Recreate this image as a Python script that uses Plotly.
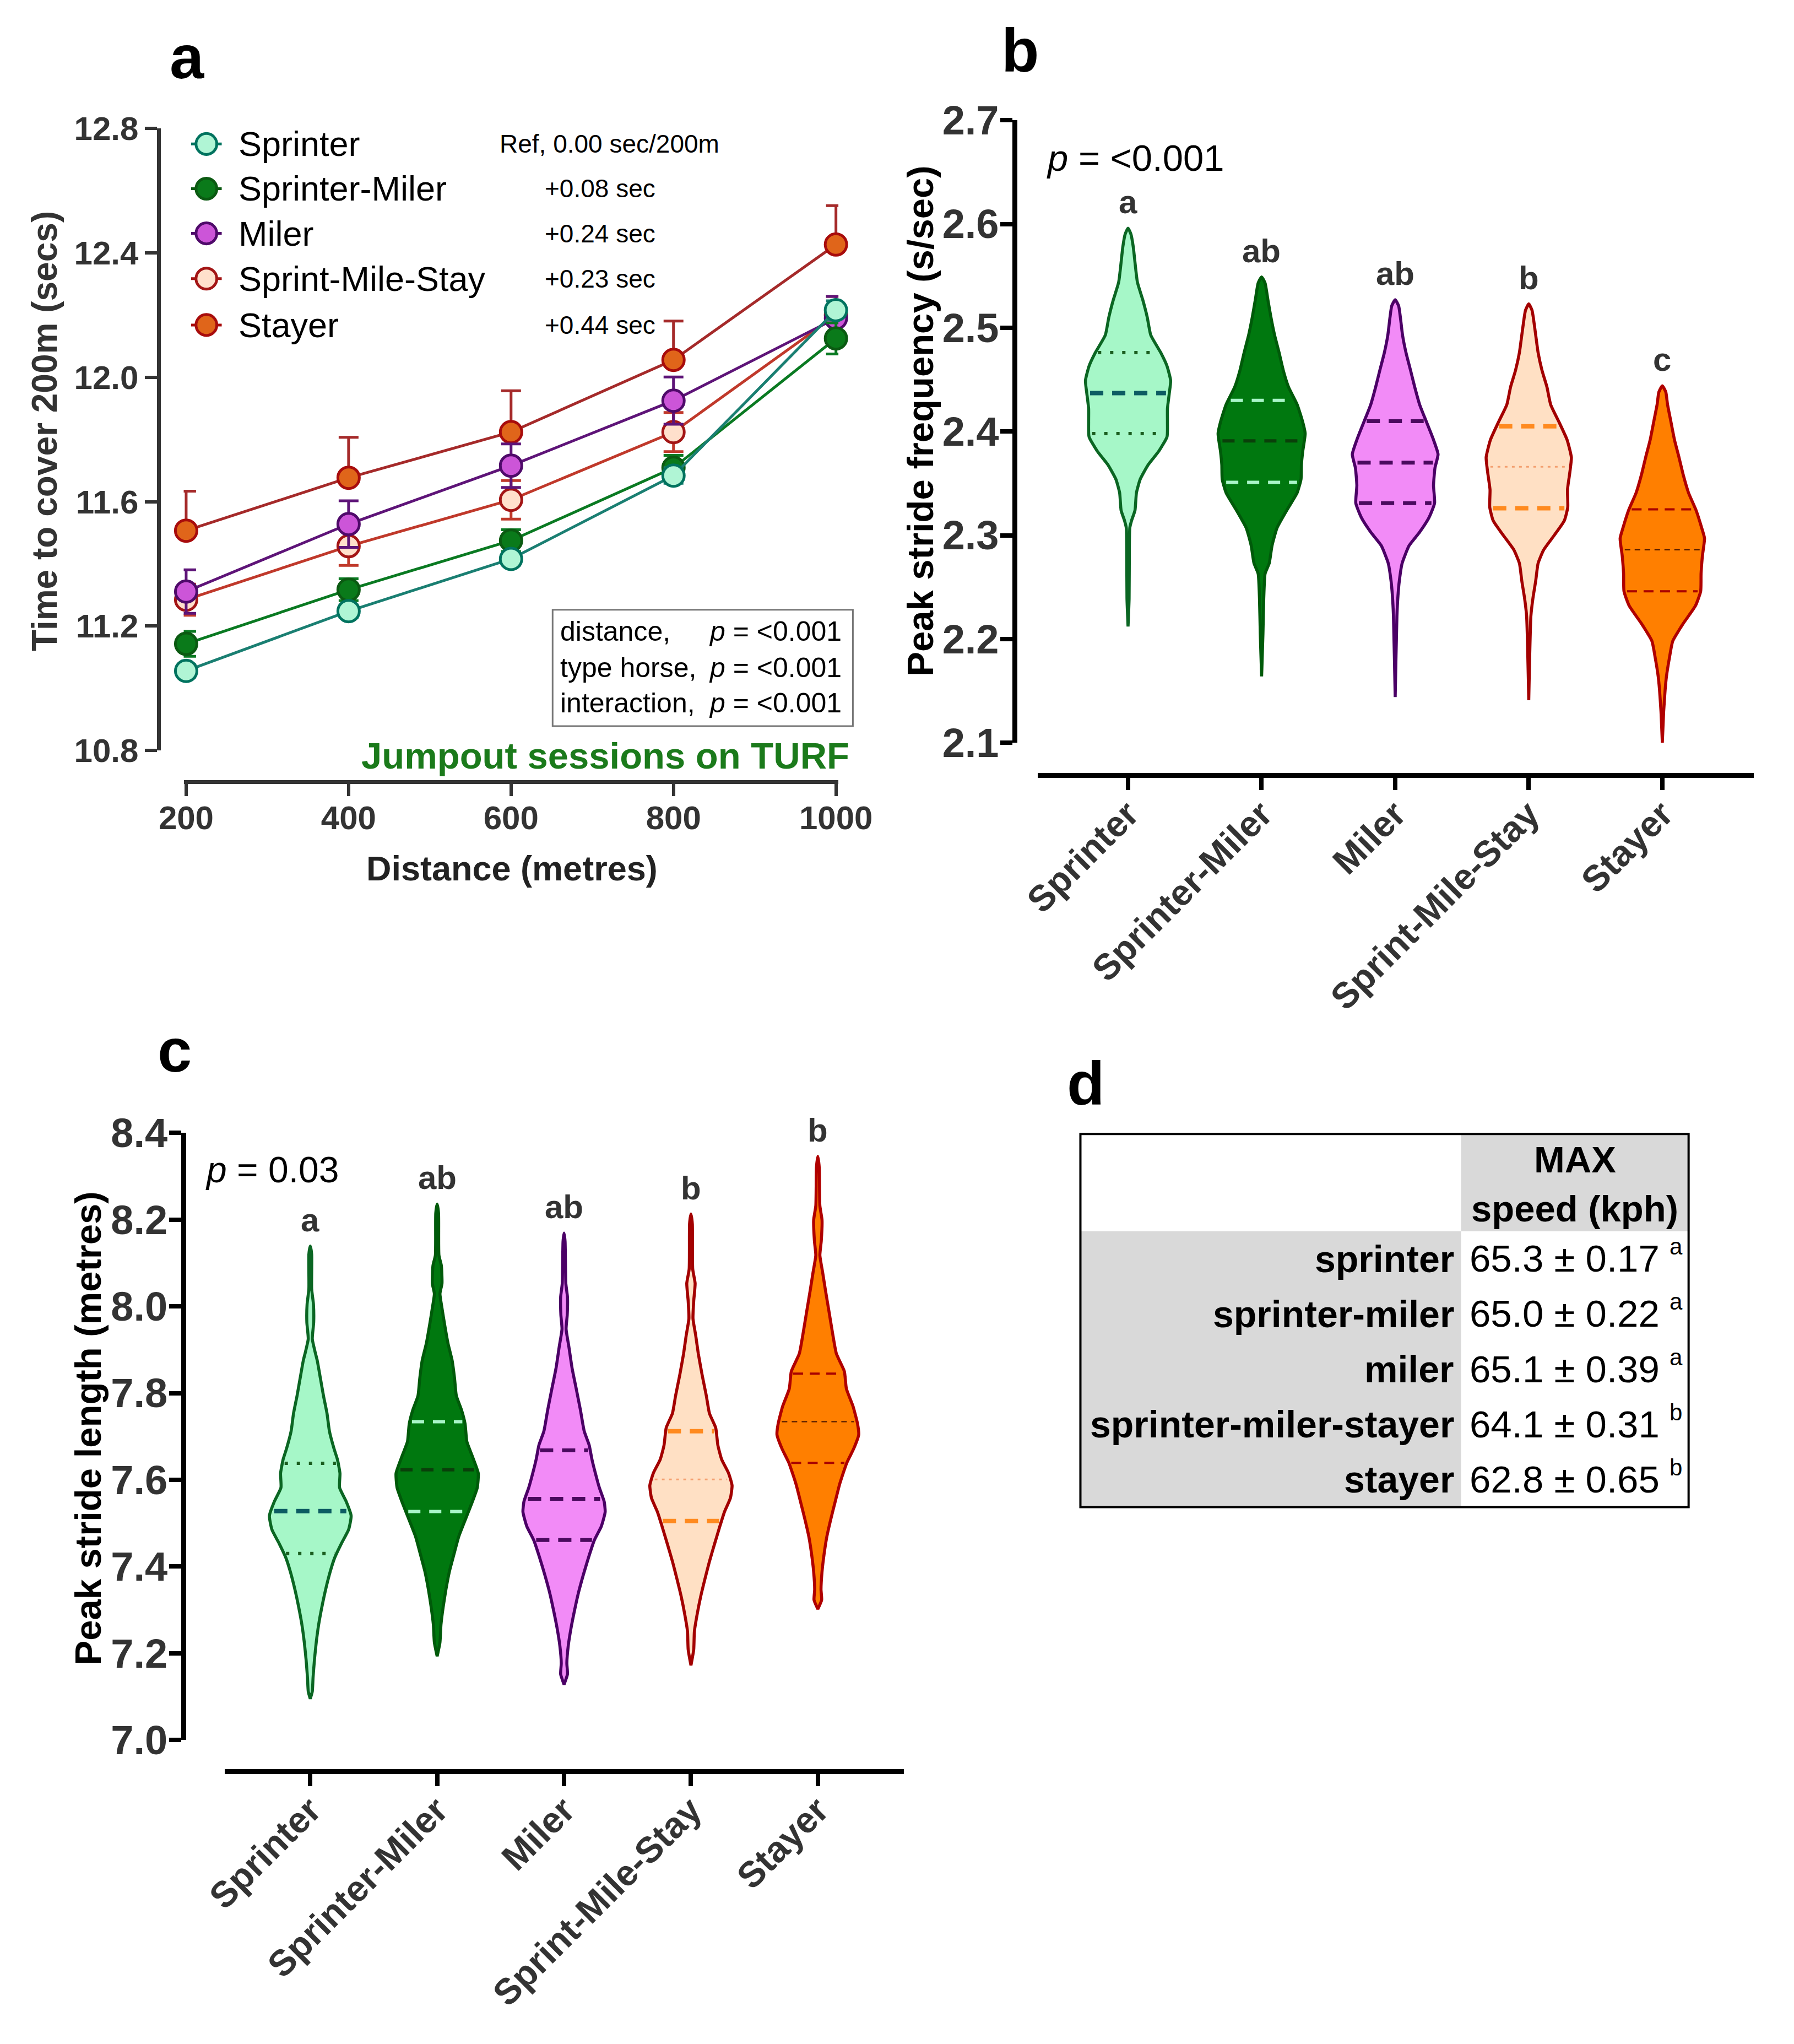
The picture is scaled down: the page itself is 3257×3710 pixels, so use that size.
import numpy as np
import plotly.graph_objects as go

W, H = 3257, 3710
FONT = "Liberation Sans, Arial, sans-serif"

# the photographed page comes out slightly shrunk with a border, so
# positions taken from the reference picture are mapped back here
SX, OX = 0.974, 43
SY, OY = 0.976, 46


def fx(p):
    return ((p - OX) / SX) / W


def fy(p):
    return 1 - ((p - OY) / SY) / H


groups = ["Sprinter", "Sprinter-Miler", "Miler", "Sprint-Mile-Stay", "Stayer"]

# ---- panel a: time to cover 200m vs distance (mean, SEM)
distance = [200, 400, 600, 800, 1000]
t_sprinter = [11.056, 11.248, 11.416, 11.684, 12.216]
t_spr_miler = [11.143, 11.317, 11.475, 11.709, 12.125]
t_miler = [11.311, 11.528, 11.716, 11.925, 12.19]
t_sms = [11.285, 11.457, 11.606, 11.824, 12.20]
t_stayer = [11.507, 11.677, 11.824, 12.056, 12.427]
sem_sprinter = [0.02, 0.02, 0.02, 0.025, 0.03]
sem_spr_miler = [0.04, 0.035, 0.035, 0.04, 0.05]
sem_miler = [0.07, 0.075, 0.07, 0.076, 0.07]
sem_sms = [0.05, 0.062, 0.062, 0.063, 0.06]
sem_stayer = [0.127, 0.13, 0.133, 0.125, 0.125]
diff_labels = ["Ref, 0.00 sec/200m", "+0.08 sec", "+0.24 sec", "+0.23 sec", "+0.44 sec"]
stat_terms = ["distance,", "type horse,", "interaction,"]
stat_p = ["&lt;0.001", "&lt;0.001", "&lt;0.001"]

# ---- panel b: peak stride frequency, violin outlines (value, half width)
sf_spr_y = [2.596, 2.590, 2.578, 2.544, 2.527, 2.510, 2.493, 2.476, 2.463, 2.449, 2.436, 2.422,
            2.409, 2.395, 2.381, 2.368, 2.354, 2.341, 2.324, 2.314, 2.307, 2.290, 2.239, 2.212]
sf_spr_w = [0.0, 0.022, 0.039, 0.070, 0.110, 0.144, 0.170, 0.245, 0.292, 0.319, 0.308, 0.295,
            0.295, 0.292, 0.230, 0.151, 0.091, 0.063, 0.052, 0.026, 0.013, 0.010, 0.008, 0.0]
sf_sm_y = [2.549, 2.543, 2.527, 2.510, 2.493, 2.476, 2.459, 2.443, 2.426, 2.409, 2.398, 2.381,
           2.368, 2.354, 2.341, 2.324, 2.307, 2.290, 2.273, 2.263, 2.239, 2.205, 2.164]
sf_sm_w = [0.0, 0.026, 0.047, 0.070, 0.097, 0.131, 0.162, 0.201, 0.266, 0.308, 0.326, 0.308,
           0.298, 0.295, 0.266, 0.188, 0.115, 0.078, 0.057, 0.026, 0.016, 0.010, 0.0]
sf_mil_y = [2.527, 2.521, 2.510, 2.493, 2.476, 2.459, 2.443, 2.426, 2.409, 2.392, 2.378, 2.365,
            2.348, 2.331, 2.317, 2.303, 2.290, 2.273, 2.256, 2.242, 2.222, 2.144]
sf_mil_w = [0.0, 0.026, 0.039, 0.055, 0.081, 0.115, 0.146, 0.183, 0.235, 0.287, 0.321, 0.298,
            0.287, 0.295, 0.253, 0.183, 0.104, 0.052, 0.031, 0.021, 0.013, 0.0]
sf_sms_y = [2.523, 2.517, 2.510, 2.493, 2.476, 2.459, 2.443, 2.426, 2.409, 2.392, 2.375, 2.361,
            2.344, 2.327, 2.314, 2.300, 2.286, 2.273, 2.256, 2.239, 2.222, 2.141]
sf_sms_w = [0.0, 0.024, 0.034, 0.052, 0.070, 0.099, 0.136, 0.164, 0.227, 0.287, 0.319, 0.308,
            0.290, 0.292, 0.266, 0.191, 0.112, 0.070, 0.052, 0.031, 0.016, 0.0]
sf_sta_y = [2.444, 2.438, 2.426, 2.409, 2.392, 2.375, 2.358, 2.341, 2.324, 2.307, 2.297, 2.280,
            2.263, 2.246, 2.232, 2.215, 2.198, 2.181, 2.164, 2.151, 2.130, 2.100]
sf_sta_w = [0.0, 0.026, 0.039, 0.065, 0.091, 0.125, 0.157, 0.196, 0.253, 0.295, 0.316, 0.300,
            0.290, 0.287, 0.248, 0.157, 0.078, 0.052, 0.031, 0.021, 0.010, 0.0]
sf_q3 = [2.476, 2.430, 2.410, 2.405, 2.325]
sf_med = [2.437, 2.391, 2.370, 2.366, 2.286]
sf_q1 = [2.398, 2.351, 2.331, 2.326, 2.246]
sf_letters = ["a", "ab", "ab", "b", "c"]

# ---- panel c: peak stride length
sl_spr_y = [8.139, 8.120, 8.040, 8.005, 7.963, 7.925, 7.895, 7.875, 7.834, 7.794, 7.753, 7.712,
            7.672, 7.647, 7.615, 7.582, 7.550, 7.517, 7.485, 7.453, 7.420, 7.388, 7.347, 7.306,
            7.266, 7.225, 7.185, 7.144, 7.112, 7.095]
sl_spr_w = [0.0, 0.011, 0.011, 0.025, 0.027, 0.016, 0.038, 0.055, 0.080, 0.104, 0.132, 0.151,
            0.187, 0.214, 0.234, 0.231, 0.283, 0.322, 0.302, 0.245, 0.192, 0.157, 0.121, 0.091,
            0.066, 0.047, 0.033, 0.022, 0.016, 0.0]
sl_sm_y = [8.236, 8.215, 8.118, 8.094, 8.053, 8.029, 7.996, 7.956, 7.915, 7.875, 7.834, 7.794,
           7.761, 7.729, 7.688, 7.656, 7.615, 7.582, 7.550, 7.517, 7.469, 7.428, 7.388, 7.347,
           7.306, 7.266, 7.225, 7.193]
sl_sm_w = [0.0, 0.011, 0.014, 0.033, 0.038, 0.022, 0.038, 0.060, 0.085, 0.118, 0.137, 0.151,
           0.192, 0.220, 0.234, 0.275, 0.324, 0.316, 0.278, 0.234, 0.170, 0.132, 0.096, 0.069,
           0.047, 0.030, 0.022, 0.0]
sl_mil_y = [8.169, 8.150, 8.053, 8.021, 7.980, 7.948, 7.907, 7.858, 7.810, 7.761, 7.712, 7.680,
            7.647, 7.615, 7.582, 7.550, 7.526, 7.493, 7.461, 7.420, 7.380, 7.339, 7.298, 7.258,
            7.217, 7.177, 7.152, 7.128]
sl_mil_w = [0.0, 0.008, 0.014, 0.027, 0.025, 0.016, 0.038, 0.063, 0.096, 0.129, 0.159, 0.198,
            0.220, 0.247, 0.278, 0.316, 0.324, 0.294, 0.239, 0.192, 0.151, 0.113, 0.082, 0.055,
            0.033, 0.022, 0.027, 0.0]
sl_sms_y = [8.213, 8.190, 8.086, 8.053, 8.013, 7.972, 7.932, 7.891, 7.842, 7.794, 7.753, 7.720,
            7.680, 7.647, 7.615, 7.587, 7.558, 7.526, 7.493, 7.453, 7.412, 7.371, 7.331, 7.290,
            7.250, 7.209, 7.172]
sl_sms_w = [0.0, 0.011, 0.014, 0.033, 0.022, 0.016, 0.038, 0.058, 0.088, 0.121, 0.146, 0.195,
            0.212, 0.242, 0.297, 0.324, 0.311, 0.264, 0.228, 0.187, 0.146, 0.110, 0.077, 0.049,
            0.027, 0.022, 0.0]
sl_sta_y = [8.346, 8.320, 8.232, 8.199, 8.151, 8.118, 8.078, 8.037, 7.988, 7.940, 7.891, 7.850,
            7.810, 7.769, 7.729, 7.704, 7.672, 7.639, 7.591, 7.550, 7.509, 7.469, 7.428, 7.388,
            7.347, 7.323, 7.302]
sl_sta_w = [0.0, 0.011, 0.016, 0.033, 0.027, 0.016, 0.038, 0.060, 0.088, 0.115, 0.146, 0.209,
            0.225, 0.278, 0.313, 0.322, 0.283, 0.228, 0.173, 0.137, 0.102, 0.071, 0.049, 0.033,
            0.025, 0.030, 0.0]
sl_q3 = [7.638, 7.734, 7.668, 7.712, 7.845]
sl_med = [7.528, 7.623, 7.556, 7.601, 7.734]
sl_q1 = [7.430, 7.527, 7.461, 7.505, 7.639]
sl_letters = ["a", "ab", "ab", "b", "b"]

# ---- panel d: max speed table
speed_header = ["MAX", "speed (kph)"]
speed_labels = ["sprinter", "sprinter-miler", "miler", "sprinter-miler-stayer", "stayer"]
speed_mean = ["65.3", "65.0", "65.1", "64.1", "62.8"]
speed_sem = ["0.17", "0.22", "0.39", "0.31", "0.65"]
speed_letters = ["a", "a", "a", "b", "b"]

# colours
fills = ["#A6F7C8", "#00780F", "#F28BF7", "#FFE0C4", "#FF7F00"]
edges = ["#0B6623", "#005A0A", "#4B0066", "#A30000", "#B00000"]
mk_fill = ["#B0F5D5", "#0A7A1A", "#CC55D8", "#FFE0CC", "#E0651A"]
mk_edge = ["#00735F", "#0B5A12", "#4F0A6A", "#A31515", "#A80C0C"]
ln_col = ["#1A7F72", "#0A7A22", "#5E1478", "#C0392B", "#A52A2A"]
# quartile line styles: (q colour, q dash, q width, median colour, median dash, median width)
qstyle = [
    ("#1B5E20", "6px,16px", 6, "#0D5C63", "24px,16px", 8),
    ("#A8F5C8", "22px,16px", 6, "#0A3F0A", "22px,16px", 6),
    ("#4A0A5E", "24px,16px", 7, "#4A0A5E", "24px,16px", 7),
    ("#FF8A1F", "24px,16px", 8, "#F4A070", "5px,8px", 3),
    ("#A80000", "18px,12px", 4, "#4A1500", "10px,8px", 2),
]

fig = go.Figure()

# ---- panel a traces (reverse order so Sprinter sits on top)
times = [t_sprinter, t_spr_miler, t_miler, t_sms, t_stayer]
sems = [sem_sprinter, sem_spr_miler, sem_miler, sem_sms, sem_stayer]
for k in [4, 3, 2, 1, 0]:
    if k == 4:
        err = dict(type="data", array=sems[k], arrayminus=[0] * 5, symmetric=False)
    else:
        err = dict(type="data", array=sems[k], symmetric=True)
    err.update(color=ln_col[k], thickness=5, width=18)
    fig.add_trace(go.Scatter(
        x=distance, y=times[k], mode="lines+markers", name=groups[k],
        line=dict(color=ln_col[k], width=5),
        marker=dict(size=39, color=mk_fill[k], line=dict(color=mk_edge[k], width=5)),
        error_y=err, cliponaxis=False, showlegend=False, xaxis="x", yaxis="y"))

annotations = []


def violins(profiles, q1, med, q3, letters, xa, ya):
    for i, (lv, wd) in enumerate(profiles):
        lv = np.array(lv)
        wd = np.array(wd)
        xs = np.concatenate([i + wd, (i - wd)[::-1]])
        ys = np.concatenate([lv, lv[::-1]])
        fig.add_trace(go.Scatter(
            x=xs, y=ys, mode="lines", fill="toself", fillcolor=fills[i],
            line=dict(color=edges[i], width=5.5, shape="spline", smoothing=0.5),
            showlegend=False, hoverinfo="skip", xaxis=xa, yaxis=ya))
        qc, qd, qw, mc, md, mw = qstyle[i]
        for val, c, d, w in [(q3[i], qc, qd, qw), (med[i], mc, md, mw), (q1[i], qc, qd, qw)]:
            half = np.interp(val, lv[::-1], wd[::-1]) * 0.92
            fig.add_trace(go.Scatter(
                x=[i - half, i + half], y=[val, val], mode="lines",
                line=dict(color=c, width=w, dash=d), showlegend=False,
                hoverinfo="skip", xaxis=xa, yaxis=ya))
        annotations.append(dict(x=i, y=lv[0], xref=xa, yref=ya, text=letters[i], showarrow=False,
                                yanchor="bottom", yshift=12,
                                font=dict(family=FONT, size=60, color="#333333", weight="bold")))


violins([(sf_spr_y, sf_spr_w), (sf_sm_y, sf_sm_w), (sf_mil_y, sf_mil_w), (sf_sms_y, sf_sms_w),
         (sf_sta_y, sf_sta_w)], sf_q1, sf_med, sf_q3, sf_letters, "x2", "y2")
violins([(sl_spr_y, sl_spr_w), (sl_sm_y, sl_sm_w), (sl_mil_y, sl_mil_w), (sl_sms_y, sl_sms_w),
         (sl_sta_y, sl_sta_w)], sl_q1, sl_med, sl_q3, sl_letters, "x3", "y3")

# ---- axes
tick_a = dict(family=FONT, size=60, color="#333333", weight="bold")
tick_bc = dict(family=FONT, size=74, color="#333333", weight="bold")
cat_font = dict(family=FONT, size=66, color="#333333", weight="bold")


def axis_common(color, lw, standoff=0):
    return dict(showline=True, linecolor=color, linewidth=lw, ticks="outside", ticklen=22,
                tickwidth=lw - 1, tickcolor=color, showgrid=False, zeroline=False,
                ticklabelstandoff=standoff)


fig.update_layout(
    width=W, height=H, margin=dict(l=0, r=0, t=0, b=0),
    paper_bgcolor="white", plot_bgcolor="white", showlegend=False,
    font=dict(family=FONT, color="black"),
    xaxis=dict(domain=[fx(325.5), fx(1522.5)], range=[197, 1003], anchor="free", position=fy(1414),
               tickvals=distance, tickfont=tick_a, **axis_common("#333333", 7, -12)),
    yaxis=dict(domain=[fy(1357), fy(230)], range=[10.8, 12.8], anchor="free", position=fx(280),
               dtick=0.4, tickformat=".1f", tickfont=tick_a, **axis_common("#333333", 7)),
    xaxis2=dict(domain=[fx(1887), fx(3196)], range=[-0.676, 4.684], anchor="free", position=fy(1402),
                tickvals=list(range(5)), ticktext=groups, tickangle=-45, tickfont=cat_font,
                **axis_common("black", 9, -22)),
    yaxis2=dict(domain=[fy(1343), fy(215)], range=[2.1, 2.7], anchor="free", position=fx(1845),
                dtick=0.1, tickformat=".1f", tickfont=tick_bc, **axis_common("black", 9, -12)),
    xaxis3=dict(domain=[fx(401), fx(1642)], range=[-0.672, 4.677], anchor="free", position=fy(3207),
                tickvals=list(range(5)), ticktext=groups, tickangle=-45, tickfont=cat_font,
                **axis_common("black", 9, -22)),
    yaxis3=dict(domain=[fy(3150), fy(2050)], range=[7.0, 8.4], anchor="free", position=fx(325),
                dtick=0.2, tickformat=".1f", tickfont=tick_bc, **axis_common("black", 9, -12)),
)

shapes = []


def paper_text(x, y, text, size, xanchor="left", color="black", weight="normal", angle=0):
    annotations.append(dict(x=fx(x), y=fy(y), xref="paper", yref="paper", text=text,
                            showarrow=False, xanchor=xanchor, yanchor="middle", textangle=angle,
                            font=dict(family=FONT, size=size, color=color, weight=weight)))


def paper_rect(x0, y0, x1, y1, fill=None, line=None, lw=0):
    shapes.append(dict(type="rect", xref="paper", yref="paper", x0=fx(x0), x1=fx(x1),
                       y0=fy(y1), y1=fy(y0), fillcolor=fill or "rgba(0,0,0,0)",
                       line=dict(color=line or "rgba(0,0,0,0)", width=lw), layer="below"))


# axis titles
paper_text(71, 778, "Time to cover 200m (secs)", 64, xanchor="center", color="#333333",
           weight="bold", angle=-90)
paper_text(926, 1570, "Distance (metres)", 63, xanchor="center", color="#222222", weight="bold")
paper_text(1672, 760, "Peak stride frequency (s/sec)", 67, xanchor="center", weight="bold", angle=-90)
paper_text(150, 2585, "Peak stride length (metres)", 67, xanchor="center", weight="bold", angle=-90)

# panel letters
for letter, (lx, ly) in zip("abcd", [(332, 100), (1855, 88), (309, 1900), (1975, 1960)]):
    paper_text(lx, ly, letter, 112, xanchor="center", weight="bold")

# legend of panel a
legend_rows = [258, 339, 420, 502, 586]
for k, ry in enumerate(legend_rows):
    shapes.append(dict(type="line", xref="paper", yref="paper", x0=fx(339), x1=fx(395),
                       y0=fy(ry), y1=fy(ry), line=dict(color=mk_edge[k], width=5)))
    shapes.append(dict(type="circle", xref="paper", yref="paper", x0=fx(367 - 19), x1=fx(367 + 19),
                       y0=fy(ry + 19), y1=fy(ry - 19), fillcolor=mk_fill[k],
                       line=dict(color=mk_edge[k], width=5)))
    paper_text(424, ry, groups[k], 63)
    if k == 0:
        paper_text(901, ry, diff_labels[k], 46)
    else:
        paper_text(1190, ry, diff_labels[k], 46, xanchor="right")

# stats box
shapes.append(dict(type="rect", xref="paper", yref="paper", x0=fx(1000), x1=fx(1549),
                   y0=fy(1313), y1=fy(1102), line=dict(color="#777777", width=3)))
for lab, pv, yy in zip(stat_terms, stat_p, [1141, 1207, 1271]):
    paper_text(1012, yy, lab, 50)
    paper_text(1284, yy, "<i>p</i> = " + pv, 50)
paper_text(1545, 1366, "Jumpout sessions on TURF", 67, xanchor="right", color="#1B7A1B", weight="bold")

paper_text(1901, 283, "<i>p</i> = &lt;0.001", 67)
paper_text(363, 2117, "<i>p</i> = 0.03", 66)

# ---- panel d table
T_L, T_R, T_T, T_B, T_SPLIT, T_HEAD = 1965, 3077, 2052, 2728, 2661, 2228
row_h = (T_B - T_HEAD) / len(speed_labels)
paper_rect(T_SPLIT, T_T, T_R, T_HEAD, fill="#D9D9D9")
paper_rect(T_L, T_HEAD, T_SPLIT, T_B, fill="#D9D9D9")
shapes.append(dict(type="rect", xref="paper", yref="paper", x0=fx(T_L), x1=fx(T_R),
                   y0=fy(T_B), y1=fy(T_T), line=dict(color="black", width=4)))
head_mid = (T_SPLIT + T_R) / 2
for j, txt in enumerate(speed_header):
    paper_text(head_mid, 2098 + j * 89, txt, 67, xanchor="center", weight="bold")
for r, (lab, m, s, l) in enumerate(zip(speed_labels, speed_mean, speed_sem, speed_letters)):
    cy = T_HEAD + row_h * (r + 0.5)
    paper_text(2650, cy, lab, 68, xanchor="right", weight="bold")
    paper_text(2675, cy, "%s \u00b1 %s" % (m, s), 69)
    paper_text(3054, cy - 22, l, 42, xanchor="center")

fig.update_layout(annotations=annotations, shapes=shapes)
fig.write_html("out.html")
